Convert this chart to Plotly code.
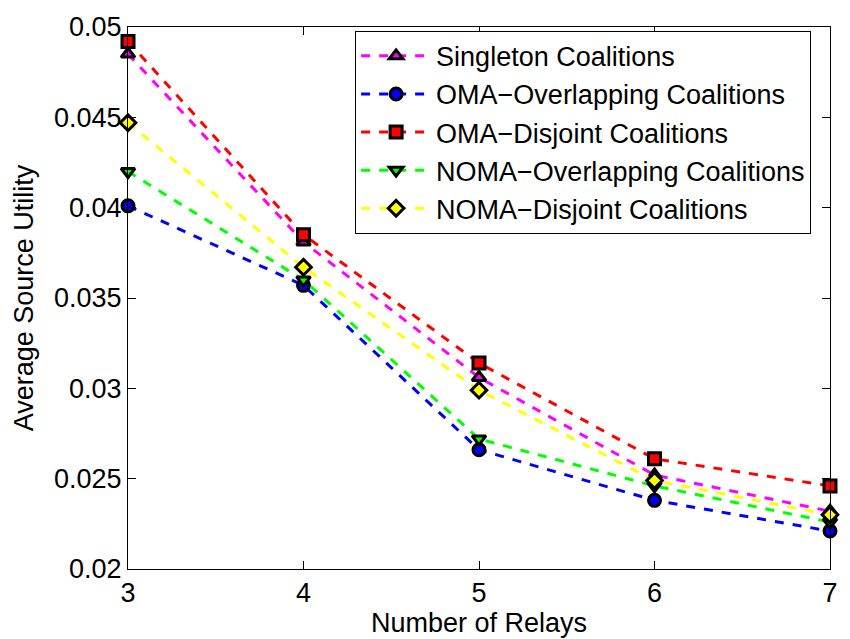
import plotly.graph_objects as go

relays = [3, 4, 5, 6, 7]
singleton = [0.0485, 0.0381, 0.0306, 0.0252, 0.0232]
oma_overlap = [0.0401, 0.0357, 0.0266, 0.0238, 0.0221]
oma_disjoint = [0.0492, 0.0385, 0.0314, 0.0261, 0.0246]
noma_overlap = [0.0420, 0.0360, 0.0272, 0.0246, 0.0226]
noma_disjoint = [0.0447, 0.0367, 0.0299, 0.0249, 0.0230]

series = [
    ("Singleton Coalitions", singleton, "#FF00FF", "triangle-up"),
    ("OMA\u2212Overlapping Coalitions", oma_overlap, "#0000FF", "circle"),
    ("OMA\u2212Disjoint Coalitions", oma_disjoint, "#FF0000", "square"),
    ("NOMA\u2212Overlapping Coalitions", noma_overlap, "#00FF00", "triangle-down"),
    ("NOMA\u2212Disjoint Coalitions", noma_disjoint, "#FFFF00", "diamond"),
]

fig = go.Figure()
for name, vals, col, sym in series:
    fig.add_trace(go.Scatter(
        x=relays, y=vals, name=name, mode="lines+markers",
        line=dict(color=col, width=3, dash="dash"),
        marker=dict(symbol=sym, color=col, size=12,
                    line=dict(color="black", width=3)),
        cliponaxis=False,
    ))

font = "Liberation Sans, Arial, sans-serif"
fig.update_layout(
    width=850, height=639,
    margin=dict(l=128, r=12, t=21, b=67),
    paper_bgcolor="white", plot_bgcolor="white",
    font=dict(family=font, size=27, color="black"),
    showlegend=True,
    legend=dict(x=0.3235, y=0.993, xanchor="left", yanchor="top",
                bgcolor="white", bordercolor="black", borderwidth=1,
                font=dict(family=font, size=27, color="black"),
                tracegroupgap=0, itemwidth=70),
)
fig.update_xaxes(
    range=[3, 7], tickvals=[3, 4, 5, 6, 7], ticktext=["3", "4", "5", "6", "7"],
    tickfont=dict(family=font, size=27, color="black"),
    showline=True, linecolor="black", linewidth=1, mirror="ticks",
    ticks="inside", ticklen=8, tickcolor="black", showgrid=False, zeroline=False,
    title=dict(text="Number of Relays", standoff=0,
               font=dict(family=font, size=27, color="black")),
)
fig.update_yaxes(
    range=[0.02, 0.05], tickvals=[0.02, 0.025, 0.03, 0.035, 0.04, 0.045, 0.05],
    ticktext=["0.02", "0.025", "0.03", "0.035", "0.04", "0.045", "0.05"],
    tickfont=dict(family=font, size=27, color="black"),
    showline=True, linecolor="black", linewidth=1, mirror="ticks",
    ticks="inside", ticklen=8, tickcolor="black", showgrid=False, zeroline=False,
    title=dict(text="Average Source Utility", standoff=12,
               font=dict(family=font, size=27, color="black")),
)
fig.write_html("out.html")
